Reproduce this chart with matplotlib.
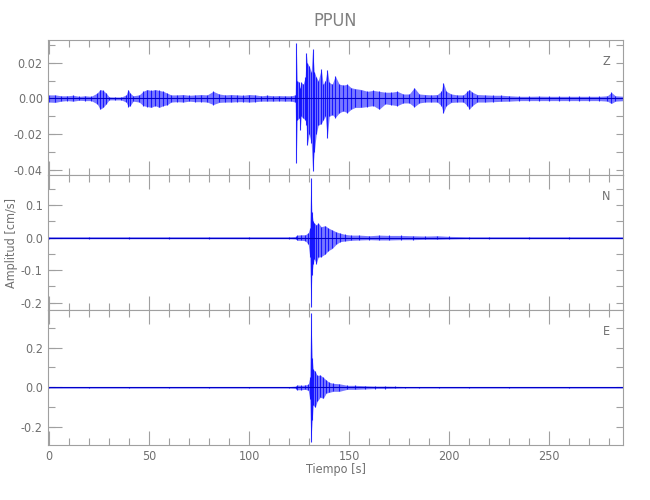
import numpy as np
import matplotlib
matplotlib.use('Agg')
import matplotlib.pyplot as plt
from matplotlib.ticker import MultipleLocator, FormatStrFormatter

plt.rcParams.update({
    'font.family': ['Liberation Sans Narrow', 'DejaVu Sans'],
    'font.stretch': 'condensed',
    'font.size': 9,
    'text.color': '#707070',
    'axes.labelcolor': '#707070',
    'axes.edgecolor': '#a0a0a0',
    'xtick.color': '#a0a0a0',
    'ytick.color': '#a0a0a0',
    'xtick.labelcolor': '#707070',
    'ytick.labelcolor': '#707070',
})

station = 'PPUN'
components = ['Z', 'N', 'E']

# envelope of each trace: time (s), upper, lower (cm/s)
t_z = [0, 3, 6, 9, 12, 15, 18, 21, 24, 25.5, 27, 28.5, 30, 33, 36, 38.5, 39.5,
       40.5, 42, 45, 47, 49, 51, 53, 55, 57, 59, 61, 64, 67, 70, 73, 76, 79, 82,
       85, 88, 91, 94, 97, 100, 103, 106, 109, 112, 115, 118, 121, 123, 123.5,
       124, 125, 125.5, 126, 127, 128, 128.5, 129, 130, 131, 131.7, 132.5,
       133.5, 134.5, 136, 137, 138, 139, 140, 141.5, 143, 145, 147, 149, 151,
       153, 156, 159, 162, 165, 168, 171, 174, 177, 180, 182.5, 185, 188, 191,
       194, 196, 197, 198.5, 201, 204, 207, 209, 210, 211.5, 214, 218, 222,
       226, 230, 235, 240, 245, 250, 255, 260, 265, 270, 275, 279, 281, 283,
       287.5]
z_hi = [.002, .002, .0015, .0015, .0018, .0012, .0015, .0012, .003, .005,
        .0045, .003, .0009, .0008, .0008, .002, .005, .003, .0015, .002, .004,
        .005, .0045, .005, .0045, .004, .003, .002, .002, .0022, .0018, .002,
        .0022, .002, .004, .0025, .002, .0022, .002, .0018, .0022, .002, .0015,
        .0018, .0015, .0016, .0015, .0015, .002, .031, .01, .009, .006, .009,
        .008, .012, .0257, .02, .018, .015, .0276, .015, .012, .01, .0163, .008,
        .01, .016, .009, .008, .0126, .008, .0075, .0079, .006, .0055, .005,
        .004, .0045, .004, .0035, .0035, .004, .0025, .0025, .006, .0025,
        .0022, .002, .0022, .004, .0088, .004, .0025, .002, .002, .004, .005,
        .0035, .0022, .002, .0018, .0018, .0015, .0012, .0012, .0013, .0012,
        .0012, .0012, .0012, .0012, .0012, .0015, .0034, .0015, .0012]
z_lo = [-.002, -.0022, -.0015, -.0012, -.0015, -.001, -.0012, -.0012, -.003,
        -.006, -.005, -.003, -.0008, -.0008, -.0008, -.002, -.0045, -.004,
        -.0015, -.002, -.004, -.0045, -.005, -.004, -.005, -.004, -.0035,
        -.002, -.0018, -.002, -.0015, -.0018, -.0018, -.002, -.0034, -.0022,
        -.002, -.002, -.0018, -.0018, -.002, -.0018, -.0015, -.0015, -.0015,
        -.0014, -.0015, -.0015, -.002, -.036, -.012, -.011, -.0175, -.01,
        -.011, -.012, -.015, -.026, -.02, -.025, -.0403, -.03, -.02, -.015,
        -.014, -.012, -.01, -.022, -.01, -.009, -.0107, -.008, -.007, -.0079,
        -.006, -.005, -.005, -.0045, -.004, -.006, -.003, -.0035, -.004,
        -.0025, -.0025, -.0047, -.0025, -.002, -.002, -.002, -.004, -.008,
        -.004, -.0022, -.002, -.002, -.004, -.006, -.004, -.002, -.002, -.0018,
        -.0016, -.0015, -.0012, -.0012, -.0012, -.0012, -.0012, -.0012,
        -.0012, -.0012, -.0012, -.0015, -.0028, -.0015, -.0012]

t_n = [0, 20, 40, 60, 80, 100, 120, 123.5, 124, 126, 128, 129.5, 130.3, 130.8,
       131.3, 132, 132.5, 133.5, 134.5, 136, 138, 139.5, 141.5, 143.5, 145.5,
       148, 151, 155, 160, 165, 170, 176, 182, 188, 194, 200, 210, 220, 240,
       260, 287.5]
n_hi = [.003, .003, .003, .003, .003, .003, .003, .004, .008, .009, .009, .015,
        .03, .183, .08, .05, .045, .04, .045, .034, .037, .03, .024, .018, .014,
        .01, .008, .008, .006, .008, .007, .007, .006, .005, .006, .004, .003,
        .003, .003, .003, .003]
n_lo = [-.003, -.003, -.003, -.003, -.003, -.003, -.003, -.004, -.008, -.008,
        -.009, -.02, -.06, -.212, -.115, -.08, -.065, -.08, -.06, -.058, -.05,
        -.04, -.033, -.02, -.012, -.01, -.008, -.007, -.006, -.007, -.007,
        -.006, -.006, -.005, -.005, -.004, -.003, -.003, -.003, -.003, -.003]

t_e = [0, 20, 40, 60, 80, 100, 120, 123.5, 124, 126, 128, 129.5, 130.3, 130.8,
       131.5, 132, 133, 134, 135.5, 137, 138.5, 140, 142, 145, 149, 153, 158,
       163, 168, 173, 178, 185, 195, 210, 230, 260, 287.5]
e_hi = [.004, .004, .004, .004, .004, .004, .004, .006, .012, .01, .012, .015,
        .05, .373, .146, .09, .08, .06, .062, .05, .037, .025, .02, .018, .01,
        .01, .008, .006, .006, .005, .004, .004, .004, .004, .004, .004, .004]
e_lo = [-.004, -.004, -.004, -.004, -.004, -.004, -.004, -.006, -.012, -.012,
        -.01, -.015, -.06, -.274, -.165, -.09, -.1, -.07, -.05, -.055, -.029,
        -.025, -.02, -.02, -.01, -.01, -.008, -.006, -.006, -.005, -.004,
        -.004, -.004, -.004, -.004, -.004, -.004]

traces = [(t_z, z_hi, z_lo), (t_n, n_hi, n_lo), (t_e, e_hi, e_lo)]
ylims = [(-0.0428, 0.0327), (-0.2225, 0.193), (-0.29, 0.389)]
major = [0.02, 0.1, 0.2]
minor = [0.01, 0.05, 0.1]
fmts = ['%.2f', '%.1f', '%.1f']

fig = plt.figure(figsize=(6.5, 5), dpi=100)
bottoms = [0.65, 0.38, 0.11]
axs = [fig.add_axes([0.0734, b, 0.8856, 0.27]) for b in bottoms]

for i, ax in enumerate(axs):
    t, hi, lo = [np.asarray(a) for a in traces[i]]
    ax.fill_between(t, lo, hi, color='#2020ff', alpha=0.6, lw=0)
    ax.vlines(t, lo, hi, color='#0000ff', lw=0.8, alpha=0.8)
    ax.axhline(0, color='#0000c8', lw=0.8)
    ax.set_xlim(-0.7, 287)
    ax.set_ylim(*ylims[i])
    ax.xaxis.set_major_locator(MultipleLocator(50))
    ax.xaxis.set_minor_locator(MultipleLocator(10))
    ax.yaxis.set_major_locator(MultipleLocator(major[i]))
    ax.yaxis.set_minor_locator(MultipleLocator(minor[i]))
    ax.yaxis.remove_overlapping_locs = False
    ax.yaxis.set_major_formatter(FormatStrFormatter(fmts[i]))
    ax.tick_params(which='both', direction='in', top=True, right=True,
                   width=0.8, labelsize=9)
    ax.tick_params(which='major', length=10)
    ax.tick_params(which='minor', length=5)
    ax.tick_params(axis='y', which='major', right=False)
    ax.text(0.97, 0.84, components[i], transform=ax.transAxes,
            ha='center', va='center', fontsize=9)
    if i < 2:
        ax.tick_params(labelbottom=False)

axs[0].set_title(station, fontsize=13, color='#808080', pad=10)
axs[1].set_ylabel('Amplitud [cm/s]', fontsize=9)
axs[1].yaxis.set_label_coords(-0.052, 0.5)
axs[2].set_xlabel('Tiempo [s]', fontsize=9)
axs[2].xaxis.set_label_coords(0.5, -0.13)

fig.savefig('out.png', dpi=100)
